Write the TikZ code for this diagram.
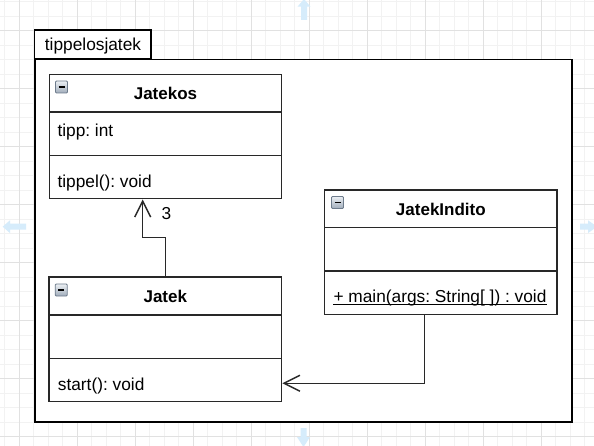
\documentclass[tikz,border=0pt]{standalone}
\usepackage{fontspec}
\setmainfont{Liberation Sans}
\frenchspacing
\usetikzlibrary{arrows.meta,calc}
\definecolor{gridminor}{RGB}{242,242,242}
\definecolor{gridmajor}{RGB}{225,225,225}
\definecolor{hover}{RGB}{214,236,251}
\definecolor{edge}{RGB}{40,40,40}
\definecolor{icontop}{RGB}{236,240,244}
\definecolor{iconbot}{RGB}{160,172,186}
\definecolor{iconedge}{RGB}{110,124,140}
\tikzset{
  txt/.style={inner sep=0pt, font=\fontsize{17.3}{20}\selectfont\frenchspacing, text=black},
  ttl/.style={txt, font=\fontsize{17}{20}\selectfont\bfseries, anchor=base},
  member/.style={txt, anchor=base west},
  classbox/.style={draw=edge, line width=1.45pt, fill=white, minimum width=232.5pt, minimum height=124.5pt, inner sep=0pt},
  sep/.style={draw=edge, line width=1.45pt},
  assoc/.style={draw=edge, line width=1.45pt, -{Straight Barb[length=16pt,width=16pt,line width=1.45pt]}},
  pkg/.style={draw=black, line width=1.6pt, fill=white, inner sep=0pt},
  hoverarrow/.style={fill=hover, draw=none}
}
\newcommand{\collapseicon}[2]{%
  \shade[top color=icontop, bottom color=iconbot, draw=iconedge, line width=0.8pt, rounded corners=1pt]
    (#1,#2) rectangle ++(12,12);
  \draw[black, line width=1.6pt] (#1+3,#2+6) -- (#1+9,#2+6);
}
\begin{document}
\begin{tikzpicture}[x=1pt,y=-1pt]
\useasboundingbox (0,0) rectangle (594,446);
\fill[white] (0,0) rectangle (594,446);
\begin{scope}
\clip (0,0) rectangle (594,446);
% grid
\foreach \i in {0,...,41} {
  \draw[gridminor, line width=0.8pt] (4.8+14.5*\i,0) -- (4.8+14.5*\i,446);
}
\foreach \i in {0,...,31} {
  \draw[gridminor, line width=0.8pt] (0,1.7+14.5*\i) -- (594,1.7+14.5*\i);
}
\foreach \i in {0,...,10} {
  \draw[gridmajor, line width=0.9pt] (19.3+58*\i,0) -- (19.3+58*\i,446);
}
\foreach \i in {0,...,7} {
  \draw[gridmajor, line width=0.9pt] (0,30.7+58*\i) -- (594,30.7+58*\i);
}
% hover arrows
\fill[hoverarrow] (304,-1) -- (310.5,6.7) -- (307,6.7) -- (307,20) -- (301,20) -- (301,6.7) -- (297.5,6.7) -- cycle;
\fill[hoverarrow] (2.7,226.7) -- (10,220.3) -- (10,223.7) -- (26,223.7) -- (26,229.7) -- (10,229.7) -- (10,233.1) -- cycle;
\fill[hoverarrow] (580,223.7) -- (588,223.7) -- (588,220.3) -- (597,226.7) -- (588,233.1) -- (588,229.7) -- (580,229.7) -- cycle;
\fill[hoverarrow] (300.5,428) -- (306.5,428) -- (306.5,437) -- (310,437) -- (303.5,447) -- (297,437) -- (300.5,437) -- cycle;
\end{scope}

% package
\node[pkg, minimum width=116.4pt, minimum height=29pt] (tab) at (92.5,44.8) {};
\node[txt, anchor=base] (tabtext) at (93,51) {tippelosjatek};
\node[pkg, minimum width=537pt, minimum height=362pt] (pkgbody) at (303.3,240.7) {};

% Jatekos
\node[classbox] (jatekos) at (165.5,136.5) {};
\draw[sep] (49.3,112) -- (281.7,112);
\draw[sep] (49.3,155.7) -- (281.7,155.7);
\collapseicon{55.5}{81}
\node[ttl] (jatekosT) at (165.5,99.7) {Jatekos};
\node[member] (jatekosA) at (57.3,136.7) {tipp: int};
\node[member] (jatekosM) at (57.3,187.3) {tippel(): void};

% Jatek
\node[classbox] (jatek) at (165.35,339.3) {};
\draw[sep] (49,315) -- (281.7,315);
\draw[sep] (49,358.3) -- (281.7,358.3);
\collapseicon{55.2}{284}
\node[ttl] (jatekT) at (165.3,302.7) {Jatek};
\node[member] (jatekM) at (57.7,390) {start(): void};

% JatekIndito
\node[classbox] (indito) at (440.85,252.35) {};
\draw[sep] (324.7,227.7) -- (557,227.7);
\draw[sep] (324.7,271) -- (557,271);
\collapseicon{331.5}{196.5}
\node[ttl] (inditoT) at (440.85,215.7) {JatekIndito};
\node[member] (inditoM) at (333.3,302.7) {+ main(args: String[ ]) : void};
\draw[black, line width=1.1pt] ($(inditoM.base west)+(0,1.6)$) -- ($(inditoM.base east)+(0,1.6)$);

% connectors
\coordinate (b1) at (165.35,237.7);
\coordinate (b2) at (142.7,237.7);
\draw[assoc] (jatek.north) -- (b1) -- (b2) -- (b2 |- jatekos.south);
\node[txt, anchor=base west] (mult) at (161.5,219.5) {3};

\coordinate (c1) at ($(indito.south)+(-16.55,0)$);
\coordinate (c2) at ($(jatek.south east)+(0,-19)$);
\draw[assoc] (c1) |- (c2);
\end{tikzpicture}
\end{document}
